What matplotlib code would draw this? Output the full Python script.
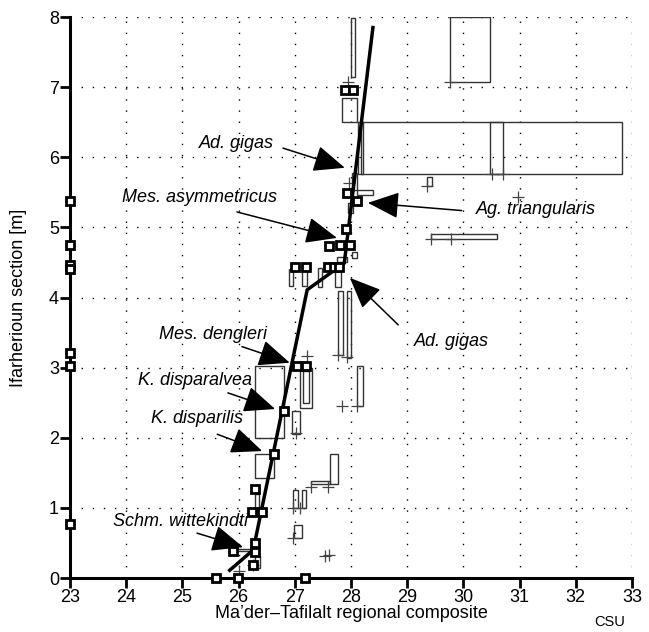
import matplotlib
matplotlib.use("Agg")
import matplotlib.pyplot as plt
from matplotlib.patches import Rectangle

plt.rcParams['font.family'] = ['Liberation Sans', 'DejaVu Sans']

# thick squares: calibration points (composite, section)
sq_x = [23.0, 23.0, 23.0, 23.0, 23.0, 23.0, 23.0,
        25.6, 25.99, 27.18, 26.26, 25.9, 26.29, 26.29,
        26.24, 26.42, 26.29, 26.63, 26.81, 27.04, 27.2,
        27.0, 27.2, 27.59, 27.7, 27.79,
        27.61, 27.8, 27.98, 27.91, 27.93, 28.11, 27.9, 28.04]
sq_y = [5.38, 4.75, 4.47, 4.4, 3.21, 3.03, 0.77,
        0.0, 0.0, 0.0, 0.18, 0.38, 0.37, 0.5,
        0.94, 0.94, 1.27, 1.77, 2.38, 3.03, 3.03,
        4.44, 4.44, 4.44, 4.44, 4.44,
        4.74, 4.75, 4.75, 4.98, 5.49, 5.38, 6.96, 6.96]

# range boxes (x0, x1, y0, y1)
box_x0 = [28.0, 27.84, 28.12, 28.18, 29.76, 29.35, 29.42, 28.1, 28.02, 27.95,
          28.02, 27.75, 26.9, 27.13, 27.41, 27.72, 27.77, 27.93, 27.09, 27.15,
          26.3, 26.3, 26.95, 28.1, 27.29, 27.63, 26.97, 27.13, 26.99, 25.9,
          26.29, 26.3, 30.47]
box_x1 = [28.07, 28.1, 32.82, 28.22, 30.47, 29.44, 30.6, 28.39, 28.11, 28.04,
          28.1, 27.93, 26.97, 27.22, 27.48, 27.82, 27.86, 28.0, 27.3, 27.25,
          26.81, 26.63, 27.09, 28.21, 27.63, 27.77, 27.06, 27.2, 27.13, 26.29,
          26.36, 26.38, 30.7]
box_y0 = [7.15, 6.5, 5.76, 5.76, 7.07, 5.59, 4.83, 5.46, 5.53, 5.2,
          4.57, 4.5, 4.17, 4.17, 4.15, 4.15, 3.18, 3.14, 2.42, 2.5,
          2.0, 1.42, 2.05, 2.45, 1.34, 1.34, 1.0, 1.0, 0.57, 0.38,
          1.0, 0.15, 5.76]
box_y1 = [7.98, 6.85, 6.5, 6.5, 8.0, 5.72, 4.9, 5.53, 5.78, 5.35,
          4.65, 4.58, 4.4, 4.4, 4.42, 4.4, 4.1, 4.1, 3.0, 2.95,
          3.03, 1.77, 2.38, 3.03, 1.38, 1.77, 1.26, 1.26, 0.76, 0.42,
          1.2, 0.32, 6.5]

# crosses
pl_x = [27.94, 29.76, 27.96, 29.35, 30.97, 30.5, 30.7, 29.42, 29.78,
        27.22, 27.77, 27.93, 27.84, 28.1, 27.02, 27.29, 27.59,
        26.97, 27.1, 26.97, 27.54, 27.6, 26.26, 26.0]
pl_y = [7.07, 7.07, 5.63, 5.59, 5.43, 5.76, 5.76, 4.84, 4.84,
        3.17, 3.18, 3.15, 2.45, 2.45, 2.07, 1.3, 1.3,
        1.0, 1.0, 0.57, 0.31, 0.33, 0.18, 0.1]

# line of correlation
loc_x = [25.84, 26.26, 27.22, 27.88, 28.39]
loc_y = [0.11, 0.4, 4.11, 4.49, 7.85]

# taxa labels: text position and arrow start/tip
lab_text = ['Ad. gigas', 'Mes. asymmetricus', 'Ag. triangularis', 'Ad. gigas',
            'Mes. dengleri', 'K. disparalvea', 'K. disparilis', 'Schm. wittekindti']
lab_x = [25.96, 25.3, 31.29, 29.78, 25.54, 25.23, 25.26, 24.96]
lab_y = [6.2, 5.43, 5.25, 3.37, 3.47, 2.82, 2.27, 0.81]
arr_x0 = [26.79, 25.97, 29.97, 28.84, 26.06, 25.81, 25.62, 25.26]
arr_y0 = [6.13, 5.22, 5.24, 3.61, 3.3, 2.64, 2.05, 0.64]
arr_x1 = [27.89, 27.75, 28.3, 27.98, 26.91, 26.65, 26.42, 26.08]
arr_y1 = [5.85, 4.85, 5.35, 4.28, 3.07, 2.41, 1.81, 0.44]

xticks = list(range(23, 34))
yticks = list(range(0, 9))

fig = plt.figure(figsize=(6.49, 6.32), dpi=100)
ax = fig.add_axes([0.1079, 0.0854, 0.8659, 0.8877])

for i in range(len(box_x0)):
    ax.add_patch(Rectangle((box_x0[i], box_y0[i]), box_x1[i] - box_x0[i],
                           box_y1[i] - box_y0[i], fill=False,
                           edgecolor='#333333', lw=1.0, zorder=2))

ax.plot(pl_x, pl_y, '+', color='#444444', ms=9, mew=0.9, zorder=3)
ax.plot(loc_x, loc_y, '-', color='black', lw=2.5, zorder=4)
ax.plot(sq_x, sq_y, 's', ms=6.3, mfc='white', mec='black', mew=2.0,
        zorder=5, clip_on=False)

for i in range(len(lab_text)):
    ax.annotate('', xy=(arr_x1[i], arr_y1[i]), xytext=(arr_x0[i], arr_y0[i]),
                arrowprops=dict(arrowstyle='-|>,head_length=1.3,head_width=0.55',
                                color='black', lw=1.1, shrinkA=0, shrinkB=0,
                                mutation_scale=15), zorder=6)
    ax.text(lab_x[i], lab_y[i], lab_text[i], style='italic', fontsize=13,
            ha='center', va='center', zorder=6)

ax.set_xlim(23, 33)
ax.set_ylim(0, 8)
ax.set_xticks(xticks)
ax.set_yticks(yticks)
ax.tick_params(labelsize=13, width=2, length=7, direction='out', pad=1)
ax.grid(True, color='black', linestyle=(0, (1, 7)), lw=1.0)
for s in ['top', 'right']:
    ax.spines[s].set_visible(False)
for s in ['left', 'bottom']:
    ax.spines[s].set_linewidth(2.2)

ax.set_xlabel("Ma’der–Tafilalt regional composite", fontsize=13, labelpad=-1)
ax.set_ylabel('Ifarherioun section [m]', fontsize=13, labelpad=16)
fig.text(0.94, 0.01, 'CSU', fontsize=10.5, ha='center')

fig.savefig('out.png', dpi=100)
